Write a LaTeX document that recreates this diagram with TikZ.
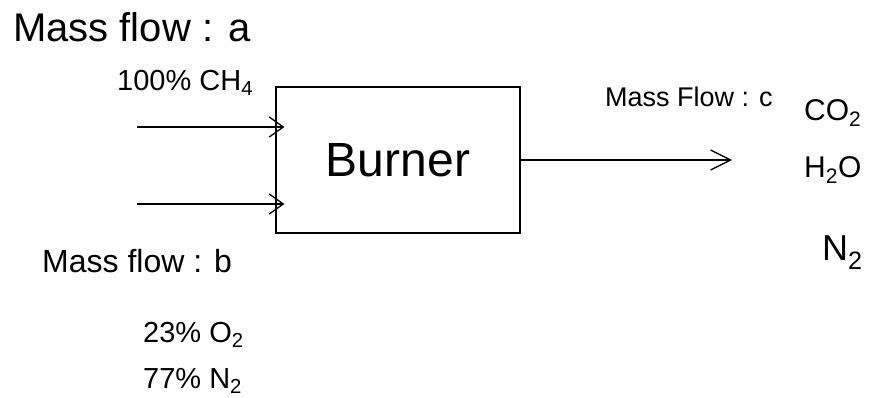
\documentclass[tikz,border=0pt]{standalone}
\usepackage{fontspec}
\setmainfont{Liberation Sans}
\usetikzlibrary{arrows.meta}

\tikzset{
  flowlbl/.style={anchor=west, inner sep=0pt, font=\fontsize{29}{34}\selectfont},
  burnerbox/.style={draw, line width=1.3pt, minimum width=244pt, minimum height=146pt,
    font=\fontsize{48}{56}\selectfont},
  feed/.style={line width=1.3pt, -{Straight Barb[length=14pt,width=20pt,line width=1.3pt]}},
  exhaust/.style={line width=1.3pt, -{Straight Barb[length=20pt,width=20pt,line width=1.3pt]}}
}

\begin{document}
\begin{tikzpicture}[x=1pt,y=-1pt]
    \useasboundingbox (0,0) rectangle (874,398);
    % Burner
    \node[burnerbox] (burner) at (398,160) {Burner};

    % Inlet a
    \node[flowlbl, font=\fontsize{40}{48}\selectfont] (flowa) at (13,27) {Mass flow : a};
    \node[flowlbl] (cha) at (117,83) {100\% CH\textsubscript{4}};
    \coordinate (ina) at (137,127);

    % Inlet b
    \node[flowlbl, font=\fontsize{32}{38}\selectfont] (flowb) at (42,261) {Mass flow : b};
    \node[flowlbl] (otwo) at (143,335) {23\% O\textsubscript{2}};
    \node[flowlbl] (ntwo) at (143,381) {77\% N\textsubscript{2}};
    \coordinate (inb) at (137,204);

    % Outlet c
    \node[flowlbl, font=\fontsize{27}{32}\selectfont] (flowc) at (605,97) {Mass Flow : c};
    \node[flowlbl, font=\fontsize{30}{36}\selectfont] (cotwo) at (804,113) {CO\textsubscript{2}};
    \node[flowlbl, font=\fontsize{30}{36}\selectfont] (htwoo) at (804,170) {H\textsubscript{2}O};
    \node[flowlbl, font=\fontsize{36}{42}\selectfont] (ntwoo) at (822,253) {N\textsubscript{2}};
    \coordinate (outc) at (732,160);

    % Flows
    \draw[feed] (ina) -- ([xshift=9pt]ina -| burner.west);
    \draw[feed] (inb) -- ([xshift=9pt]inb -| burner.west);
    \draw[exhaust] (burner.east) -- (outc);
\end{tikzpicture}
\end{document}
